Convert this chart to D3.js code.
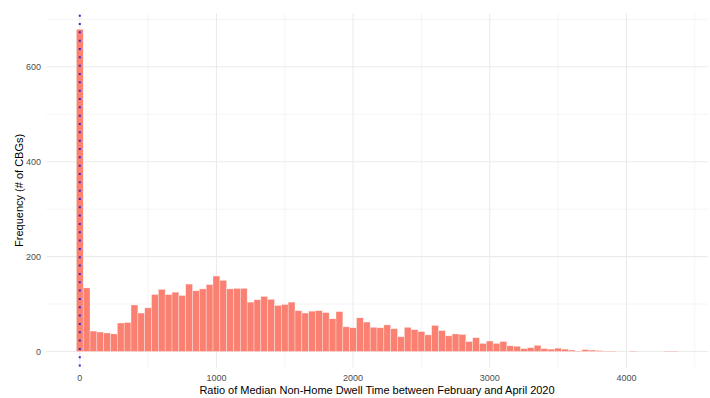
<!DOCTYPE html>
<html>
<head>
<meta charset="utf-8">
<script src="https://cdn.jsdelivr.net/npm/d3@7"></script>
<style>
  html, body { margin: 0; padding: 0; background: #fff; }
  svg { display: block; font-family: "Liberation Sans", Arial, sans-serif; }
</style>
</head>
<body>
<svg id="chart" width="710" height="398"></svg>
<script>
// Histogram bins: 50-wide bins centred on multiples of 50, starting at 0
const binWidth = 50;
const binCounts = [
  679, 134, 43, 41, 39, 37, 60, 61, 98, 81,
  92, 120, 131, 120, 125, 118, 142, 128, 132, 141,
  159, 150, 132, 133, 133, 104, 109, 116, 110, 97,
  99, 104, 86, 81, 85, 86, 82, 69, 84, 52,
  50, 71, 62, 51, 50, 56, 48, 31, 51, 46,
  42, 35, 55, 44, 33, 37, 36, 21, 29, 17,
  22, 17, 21, 12, 11, 6, 8, 13, 6, 5,
  7, 5, 3, 1, 4, 3, 2, 1, 1, 0,
  0, 1, 0, 0, 0, 0, 1, 1
];
const binMids = binCounts.map((_, i) => i * binWidth);

// Median marker (dotted vertical line)
const medianValue = 0;

// Axis breaks
const xMajorTicks = [0, 1000, 2000, 3000, 4000];
const xMinorTicks = [500, 1500, 2500, 3500, 4500];
const yMajorTicks = [0, 200, 400, 600];
const yMinorTicks = [100, 300, 500, 700];

const xTitle = "Ratio of Median Non-Home Dwell Time between February and April 2020";
const yTitle = "Frequency (# of CBGs)";

const W = 710, H = 398;
const panel = { left: 46.3, right: 707.7, top: 13.2, bottom: 367.6 };

// Data extent with 5% expansion on each side
const xLo = binMids[0] - binWidth / 2;
const xHi = binMids[binMids.length - 1] + binWidth / 2;
const xPad = (xHi - xLo) * 0.05;
const yMax = d3.max(binCounts);
const yPad = yMax * 0.05;

const x = d3.scaleLinear().domain([xLo - xPad, xHi + xPad]).range([panel.left, panel.right]);
const y = d3.scaleLinear().domain([-yPad, yMax + yPad]).range([panel.bottom, panel.top]);

const svg = d3.select("#chart");

svg.append("defs").append("clipPath").attr("id", "panelClip")
  .append("rect")
  .attr("x", panel.left).attr("y", panel.top)
  .attr("width", panel.right - panel.left).attr("height", panel.bottom - panel.top);

// Grid lines
const grid = svg.append("g");
grid.selectAll(".ymin").data(yMinorTicks).join("line")
  .attr("x1", panel.left).attr("x2", panel.right)
  .attr("y1", d => y(d)).attr("y2", d => y(d))
  .attr("stroke", "#ebebeb").attr("stroke-width", 0.55);
grid.selectAll(".xmin").data(xMinorTicks).join("line")
  .attr("y1", panel.top).attr("y2", panel.bottom)
  .attr("x1", d => x(d)).attr("x2", d => x(d))
  .attr("stroke", "#ebebeb").attr("stroke-width", 0.55);
grid.selectAll(".ymaj").data(yMajorTicks).join("line")
  .attr("x1", panel.left).attr("x2", panel.right)
  .attr("y1", d => y(d)).attr("y2", d => y(d))
  .attr("stroke", "#ebebeb").attr("stroke-width", 1.07);
grid.selectAll(".xmaj").data(xMajorTicks).join("line")
  .attr("y1", panel.top).attr("y2", panel.bottom)
  .attr("x1", d => x(d)).attr("x2", d => x(d))
  .attr("stroke", "#ebebeb").attr("stroke-width", 1.07);

// Bars
svg.append("g").attr("clip-path", "url(#panelClip)")
  .selectAll("rect").data(binMids.map((m, i) => ({ m, c: binCounts[i] })).filter(d => d.c > 0))
  .join("rect")
  .attr("x", d => x(d.m - binWidth / 2))
  .attr("width", d => x(d.m + binWidth / 2) - x(d.m - binWidth / 2))
  .attr("y", d => y(d.c))
  .attr("height", d => y(0) - y(d.c))
  .attr("fill", "#fa8072")
  .attr("stroke", "#ffffff")
  .attr("stroke-opacity", 0.55)
  .attr("stroke-width", 0.6);

// Median line
svg.append("line")
  .attr("x1", x(medianValue)).attr("x2", x(medianValue))
  .attr("y1", panel.top).attr("y2", panel.bottom)
  .attr("stroke", "#2b2bd9")
  .attr("stroke-width", 2)
  .attr("stroke-dasharray", "2,6.33")
  .attr("stroke-dashoffset", -1.5);

// Axis tick labels
svg.append("g").selectAll("text").data(yMajorTicks).join("text")
  .attr("x", 41).attr("y", d => y(d))
  .attr("dy", "0.35em")
  .attr("text-anchor", "end")
  .attr("font-size", 9).attr("fill", "#4d4d4d")
  .text(d => d);
svg.append("g").selectAll("text").data(xMajorTicks).join("text")
  .attr("x", d => x(d)).attr("y", 377.5)
  .attr("dy", "0.35em")
  .attr("text-anchor", "middle")
  .attr("font-size", 9).attr("fill", "#4d4d4d")
  .text(d => d);

// Axis titles
svg.append("text")
  .attr("x", (panel.left + panel.right) / 2).attr("y", 390)
  .attr("dy", "0.35em")
  .attr("text-anchor", "middle")
  .attr("font-size", 11).attr("fill", "#000")
  .text(xTitle);
svg.append("text")
  .attr("transform", `translate(19,${(panel.top + panel.bottom) / 2}) rotate(-90)`)
  .attr("dy", "0.35em")
  .attr("text-anchor", "middle")
  .attr("font-size", 11).attr("fill", "#000")
  .text(yTitle);
</script>
</body>
</html>
